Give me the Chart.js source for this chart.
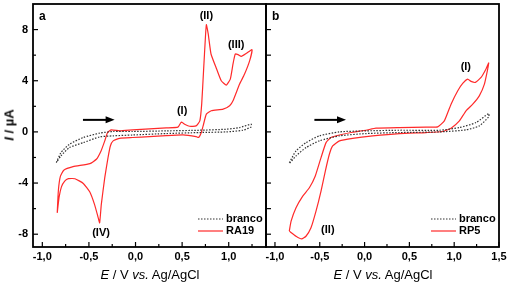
<!DOCTYPE html>
<html>
<head>
<meta charset="utf-8">
<script src="https://cdn.jsdelivr.net/npm/chart.js@4"></script>
<style>
  body { margin: 0; background: #fff; }
  #wrap { position: relative; width: 512px; height: 285px; font-family: 'Liberation Sans', Arial, sans-serif; }
  #wrap canvas { position: absolute; left: 0; top: 0; }
  .xt { position: absolute; top: 274px; font-size: 13px; transform: translate(-50%, -50%); white-space: nowrap; }
  .yt { position: absolute; left: 9px; top: 125px; font-size: 13px; font-weight: bold; transform: translate(-50%, -50%) rotate(-90deg); white-space: nowrap; }
</style>
</head>
<body>
<div id="wrap">
  <canvas id="chA" width="512" height="285"></canvas>
  <canvas id="chB" width="512" height="285"></canvas>
  <div class="yt"><i>I</i> / µA</div>
  <div class="xt" style="left:150px"><i>E</i> / V <i>vs.</i> Ag/AgCl</div>
  <div class="xt" style="left:383px"><i>E</i> / V <i>vs.</i> Ag/AgCl</div>
</div>
<script>
// panel a : RA19
var raE = [-0.84,-0.828,-0.807,-0.77,-0.67,-0.49,-0.42,-0.37,-0.33,-0.30,-0.26,-0.17,-0.03,0.15,0.33,0.455,0.49,0.527,0.58,0.65,0.69,0.71,0.73,0.75,0.76,0.78,0.81,0.87,0.92,0.974,1.017,1.046,1.07,1.10,1.135,1.19,1.25,
           1.225,1.17,1.117,1.046,1.01,0.94,0.813,0.76,0.73,0.706,0.678,0.65,0.51,0.33,0.15,-0.03,-0.17,-0.24,-0.27,-0.295,-0.33,-0.367,-0.385,-0.40,-0.44,-0.49,-0.56,-0.65,-0.72,-0.76,-0.795,-0.82,-0.84];
var raI = [-6.33,-4.6,-3.5,-3.0,-2.72,-2.48,-2.14,-1.49,-0.70,-0.05,0.16,0.08,0.16,0.24,0.31,0.37,0.76,0.60,0.44,0.47,0.86,2.17,4.78,7.4,8.39,7.66,6.09,4.92,4.0,3.66,4.13,5.31,6.09,6.04,5.9,6.14,6.43,
           5.57,4.52,3.74,2.43,2.04,1.78,1.65,1.39,0.6,-0.05,-0.44,-0.37,-0.24,-0.29,-0.37,-0.44,-0.5,-0.7,-1.1,-2.01,-3.58,-5.67,-7.11,-6.72,-5.67,-4.7,-4.03,-3.66,-3.66,-3.85,-4.3,-5.1,-6.33];
var brancoAE = [-0.85,-0.80,-0.71,-0.56,-0.385,-0.24,-0.03,0.33,0.69,0.974,1.117,1.24,1.24,1.153,0.974,0.69,0.33,-0.03,-0.24,-0.385,-0.56,-0.71,-0.80,-0.85];
var brancoAI = [-2.4,-1.62,-0.97,-0.44,-0.1,0.03,0.03,0.08,0.13,0.21,0.34,0.6,0.39,0.13,0.0,-0.05,-0.13,-0.24,-0.31,-0.39,-0.84,-1.23,-1.88,-2.4];

// panel b : RP5
var rpE = [-0.84,-0.82,-0.765,-0.69,-0.616,-0.55,-0.486,-0.43,-0.375,-0.28,-0.133,0.016,0.128,0.388,0.686,0.816,0.89,0.965,1.04,1.095,1.15,1.188,1.236,1.30,1.355,1.385,
           1.374,1.337,1.28,1.207,1.132,1.058,0.965,0.872,0.686,0.388,0.09,-0.133,-0.28,-0.356,-0.393,-0.438,-0.486,-0.542,-0.598,-0.654,-0.702,-0.765,-0.84];
var rpI = [-7.76,-6.98,-5.93,-5.02,-4.37,-3.45,-2.01,-0.84,-0.44,-0.24,-0.03,0.13,0.29,0.34,0.37,0.39,0.86,2.17,3.22,3.79,4.13,3.95,3.87,4.26,4.92,5.39,
           4.92,3.74,2.82,2.17,1.65,0.86,0.29,0.03,-0.05,-0.13,-0.31,-0.5,-0.7,-1.1,-1.75,-3.06,-4.63,-6.2,-7.5,-8.16,-8.37,-8.16,-7.76];
var brancoBE = [-0.84,-0.765,-0.654,-0.505,-0.28,0.016,0.388,0.835,1.058,1.244,1.385,1.385,1.28,1.132,0.835,0.388,0.016,-0.28,-0.505,-0.654,-0.765,-0.84];
var brancoBI = [-2.4,-1.49,-0.84,-0.31,0.0,0.08,0.13,0.13,0.34,0.73,1.44,1.18,0.47,0.16,0.0,-0.05,-0.13,-0.31,-0.7,-1.23,-1.88,-2.48];

// axes
var yMajorA = [-8, -4, 0, 4, 8];
var yLabelsA = ['-8', '-4', '0', '4', '8'];
var yMinorA = [-6, -2, 2, 6];
var yMajorB = [-8, -6, -4, -2, 0, 2, 4, 6, 8];
var xMajorA = [-1.0, -0.5, 0.0, 0.5, 1.0];
var xLabelsA = ['-1,0', '-0,5', '0,0', '0,5', '1,0'];
var xMinorA = [-0.75, -0.25, 0.25, 0.75, 1.25];
var xMajorB = [-1.0, -0.5, 0.0, 0.5, 1.0, 1.5];
var xLabelsB = ['-1,0', '-0,5', '0,0', '0,5', '1,0', '1,5'];
var xMinorB = [-0.75, -0.25, 0.25, 0.75, 1.25];

var FONT = "'Liberation Sans', Arial, sans-serif";

function pts(xs, ys) {
    return xs.map(function(v, i){ return {x: v, y: ys[i]}; });
}

var cvDecor = {
    id: 'cvDecor',
    afterDatasetsDraw: function(chart, args, o) {
        var ctx = chart.ctx, a = chart.chartArea;
        var x = chart.scales.x, y = chart.scales.y;
        ctx.save();
        ctx.strokeStyle = '#000';
        ctx.lineWidth = 1.2;
        function seg(x1, y1, x2, y2) { ctx.beginPath(); ctx.moveTo(x1, y1); ctx.lineTo(x2, y2); ctx.stroke(); }
        // inward ticks
        o.xMajor.forEach(function(v){ var p = x.getPixelForValue(v); seg(p, a.bottom, p, a.bottom - 5); });
        o.xMinor.forEach(function(v){ var p = x.getPixelForValue(v); seg(p, a.bottom, p, a.bottom - 3); });
        o.yMajor.forEach(function(v){ var p = y.getPixelForValue(v); seg(a.left, p, a.left + 5, p); });
        o.yMinor.forEach(function(v){ var p = y.getPixelForValue(v); seg(a.left, p, a.left + 3, p); });
        // frame
        ctx.lineWidth = 1.8;
        ctx.strokeRect(a.left, a.top, a.right - a.left, a.bottom - a.top);
        // arrow
        var ax1 = x.getPixelForValue(o.arrow[0]), ax2 = x.getPixelForValue(o.arrow[1]), ay = y.getPixelForValue(o.arrow[2]);
        ctx.lineWidth = 2;
        seg(ax1, ay, ax2 - 6, ay);
        ctx.fillStyle = '#000';
        ctx.beginPath(); ctx.moveTo(ax2, ay); ctx.lineTo(ax2 - 9, ay - 3.5); ctx.lineTo(ax2 - 9, ay + 3.5); ctx.closePath(); ctx.fill();
        // peak labels
        ctx.font = 'bold 11px ' + FONT;
        ctx.textAlign = 'center';
        ctx.textBaseline = 'middle';
        o.peaks.forEach(function(p){ ctx.fillText(p[0], x.getPixelForValue(p[1]), y.getPixelForValue(p[2])); });
        // panel letter
        ctx.font = 'bold 12px ' + FONT;
        ctx.textAlign = 'left';
        ctx.fillText(o.letter, a.left + 6, a.top + 13);
        // legend
        ctx.font = 'bold 11px ' + FONT;
        var lx1 = a.right - 68, lx2 = a.right - 43;
        ctx.lineWidth = 1.2;
        ctx.strokeStyle = '#333';
        ctx.setLineDash([1.5, 1.5]);
        seg(lx1, a.bottom - 28, lx2, a.bottom - 28);
        ctx.setLineDash([]);
        ctx.strokeStyle = '#ff2a2a';
        seg(lx1, a.bottom - 16, lx2, a.bottom - 16);
        ctx.fillText(o.names[0], a.right - 40, a.bottom - 28);
        ctx.fillText(o.names[1], a.right - 40, a.bottom - 16);
        ctx.restore();
    }
};

function makeChart(id, c) {
    return new Chart(document.getElementById(id), {
        type: 'scatter',
        data: {
            datasets: [{
                label: c.names[0],
                data: c.blank,
                showLine: true,
                borderColor: '#333',
                borderWidth: 1.2,
                borderDash: [1.5, 1.5],
                pointRadius: 0,
                tension: 0.2
            }, {
                label: c.names[1],
                data: c.sample,
                showLine: true,
                borderColor: '#ff2a2a',
                borderWidth: 1.2,
                pointRadius: 0,
                tension: 0.15
            }]
        },
        options: {
            responsive: false,
            animation: false,
            devicePixelRatio: 1,
            layout: { padding: { left: 0, right: c.padRight, top: 4, bottom: 0 } },
            plugins: {
                legend: { display: false },
                tooltip: { enabled: false },
                cvDecor: c
            },
            scales: {
                x: {
                    type: 'linear',
                    min: c.xMin,
                    max: c.xMax,
                    afterBuildTicks: function(s){ s.ticks = c.xMajor.map(function(v){ return {value: v}; }); },
                    afterFit: function(s){ s.height = 38; s.paddingLeft = 0; s.paddingRight = 0; },
                    ticks: {
                        autoSkip: false,
                        maxRotation: 0,
                        padding: 3,
                        color: '#000',
                        font: { family: FONT, size: 11, weight: 'bold' },
                        callback: function(v, i){ return c.xLabels[i]; }
                    },
                    grid: { display: false, drawTicks: false },
                    border: { display: false }
                },
                y: {
                    type: 'linear',
                    min: -9,
                    max: 10,
                    afterBuildTicks: function(s){ s.ticks = c.yMajor.map(function(v){ return {value: v}; }); },
                    afterFit: function(s){ s.width = c.yWidth; s.paddingTop = 0; s.paddingBottom = 0; },
                    ticks: {
                        display: c.yLabels != null,
                        padding: 5,
                        color: '#000',
                        font: { family: FONT, size: 11, weight: 'bold' },
                        callback: function(v, i){ return c.yLabels ? c.yLabels[i] : ''; }
                    },
                    grid: { display: false, drawTicks: false },
                    border: { display: false }
                }
            }
        },
        plugins: [cvDecor]
    });
}

makeChart('chA', {
    blank: pts(brancoAE, brancoAI),
    sample: pts(raE, raI),
    names: ['branco', 'RA19'],
    letter: 'a',
    xMin: -1.1, xMax: 1.4,
    xMajor: xMajorA, xLabels: xLabelsA, xMinor: xMinorA,
    yMajor: yMajorA, yLabels: yLabelsA, yMinor: yMinorA,
    yWidth: 33, padRight: 246,
    arrow: [-0.564, -0.224, 0.94],
    peaks: [['(I)', 0.50, 1.6], ['(II)', 0.76, 9.1], ['(III)', 1.08, 6.8], ['(IV)', -0.37, -7.9]]
});

makeChart('chB', {
    blank: pts(brancoBE, brancoBI),
    sample: pts(rpE, rpI),
    names: ['branco', 'RP5'],
    letter: 'b',
    xMin: -1.1, xMax: 1.5,
    xMajor: xMajorB, xLabels: xLabelsB, xMinor: xMinorB,
    yMajor: yMajorB, yLabels: null, yMinor: [],
    yWidth: 266, padRight: 13,
    arrow: [-0.56, -0.207, 0.94],
    peaks: [['(I)', 1.13, 5.1], ['(II)', -0.41, -7.7]]
});
</script>
</body>
</html>
